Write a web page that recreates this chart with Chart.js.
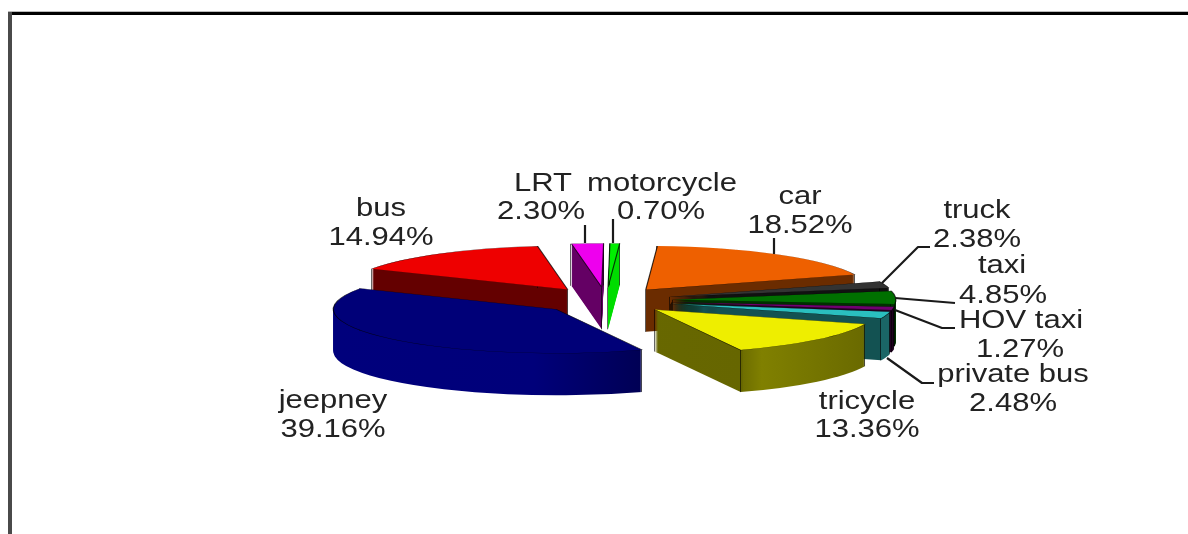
<!DOCTYPE html>
<html>
<head>
<meta charset="utf-8">
<script src="https://cdn.jsdelivr.net/npm/chart.js@4/dist/chart.umd.js"></script>
<style>
html,body{margin:0;padding:0;background:#fff;overflow:hidden;width:1188px;height:534px}
#wrap{position:relative;width:1188px;height:534px}
canvas{position:absolute;left:0;top:0;filter:blur(0.45px)}
#top{position:absolute;left:8px;top:11px;width:1180px;height:3px;background:#000;border-top:1px solid #bbb}
#left{position:absolute;left:8px;top:12px;width:4px;height:522px;background:#4a4a4a}
</style>
</head>
<body>
<div id="wrap">
<div id="top"></div><div id="left"></div>
<canvas id="c" width="1188" height="534"></canvas>
</div>
<script>
const categories = ["car","truck","taxi","HOV taxi","private bus","tricycle","jeepney","bus","LRT","motorcycle"];
const shares = [18.52,2.38,4.85,1.27,2.48,13.36,39.16,14.94,2.30,0.70];
const shareLabels = ["18.52%","2.38%","4.85%","1.27%","2.48%","13.36%","39.16%","14.94%","2.30%","0.70%"];

const topColors = ["#EE6000","#333333","#007000","#700070","#2ABFBF","#EEEE00","#000078","#EE0000","#EE00EE","#00EE00"];
const wallStyles = [
  [[0,"#6B2C00"],[1,"#6B2C00"]],
  [[0,"#111111"],[1,"#111111"]],
  [[0,"#003000"],[1,"#003000"]],
  [[0,"#200020"],[1,"#200020"]],
  [[0,"#135252"],[0.969,"#135252"],[0.971,"#1A6666"],[1,"#1A6666"]],
  [[0,"#6B6B00"],[0.696,"#666600"],[0.698,"#6E6E00"],[0.74,"#808000"],[0.97,"#6A6A00"],[1,"#6A6A00"]],
  [[0,"#00007C"],[0.45,"#00007A"],[0.72,"#000050"],[1,"#000050"]],
  [[0,"#640000"],[1,"#640000"]],
  [[0,"#640064"],[1,"#640064"]],
  [[0,"#00DD00"],[1,"#00DD00"]]
];

const labelSpots = [
  [800,204,800,233],[977,218,977,247],[1002,273,1003,303],[1021,328,1020,357],[1013,382,1013,411],
  [867,409,867,437],[333,408,333,437],[381,216,381,245],[543,191,541,219],[662,191,661,219]
];
const leaders = [
  [[774,238],[774,254]],
  [[882,283],[918,247],[930,247]],
  [[895,298],[955,303]],
  [[895,310],[942,328],[955,328]],
  [[887,358],[922,383],[934,383]],
  [[585,225],[585,243]],
  [[613,219],[613,243]]
];

const squash = 0.197;
const explode = 67;
const depth = 42;
const textStretch = 1.24;

const pie3d = {
  id: "pie3d",
  beforeDatasetDraw(chart, args) {
    const ctx = chart.ctx;
    const items = args.meta.data.map((el, i) => {
      const mid = (el.startAngle + el.endAngle) / 2;
      return {el, i, mid, tx: Math.cos(mid) * explode, ty: Math.sin(mid) * explode};
    }).sort((a, b) => a.ty - b.ty);

    for (const it of items) {
      const el = it.el, base = el.options;
      const grad = ctx.createLinearGradient(el.x - el.outerRadius, 0, el.x + el.outerRadius, 0);
      wallStyles[it.i].forEach(s => grad.addColorStop(s[0], s[1]));
      const put = dy => {
        ctx.save();
        ctx.translate(0, el.y + dy);
        ctx.scale(1, squash);
        ctx.translate(0, -el.y);
        ctx.translate(it.tx, it.ty);
      };
      el.options = Object.assign({}, base, {backgroundColor: grad, borderWidth: 0});
      for (let dy = depth; dy > 0; dy--) { put(dy); el.draw(ctx); ctx.restore(); }

      const ax = el.x + it.tx, ay = el.y + it.ty * squash, r = el.outerRadius;
      const corners = [[ax, ay],
        [ax + r * Math.cos(el.startAngle), ay + squash * r * Math.sin(el.startAngle)],
        [ax + r * Math.cos(el.endAngle), ay + squash * r * Math.sin(el.endAngle)]];
      ctx.save();
      ctx.strokeStyle = "rgba(0,0,0,0.6)";
      ctx.lineWidth = 1;
      for (const p of corners) {
        const x = Math.round(p[0]) - 0.5;
        ctx.beginPath(); ctx.moveTo(x, p[1]); ctx.lineTo(x, p[1] + depth); ctx.stroke();
      }
      ctx.restore();

      el.options = Object.assign({}, base, {backgroundColor: topColors[it.i], borderColor: "rgba(0,0,0,0.75)", borderWidth: 1.2});
      put(0); el.draw(ctx); ctx.restore();
      el.options = base;
    }
    return false;
  },
  afterDatasetsDraw(chart) {
    const ctx = chart.ctx;
    ctx.save();
    ctx.strokeStyle = "#1a1a1a";
    ctx.lineWidth = 2.2;
    ctx.lineJoin = "round";
    for (const line of leaders) {
      ctx.beginPath();
      line.forEach((p, i) => i ? ctx.lineTo(p[0], p[1]) : ctx.moveTo(p[0], p[1]));
      ctx.stroke();
    }
    ctx.fillStyle = "#222";
    ctx.font = '25px "Liberation Sans", Arial, sans-serif';
    ctx.textAlign = "center";
    ctx.textBaseline = "alphabetic";
    const put = (s, x, y) => {
      ctx.save(); ctx.translate(x, y); ctx.scale(textStretch, 1); ctx.fillText(s, 0, 0); ctx.restore();
    };
    categories.forEach((name, i) => {
      const s = labelSpots[i];
      put(name, s[0], s[1]);
      put(shareLabels[i], s[2], s[3]);
    });
    ctx.restore();
  }
};

new Chart(document.getElementById("c"), {
  type: "pie",
  data: {
    labels: categories,
    datasets: [{ data: shares, backgroundColor: topColors, borderWidth: 0 }]
  },
  options: {
    responsive: false,
    animation: false,
    devicePixelRatio: 1,
    rotation: 3,
    radius: 223,
    layout: { padding: { left: 24, top: 67, right: 0, bottom: 0 } },
    plugins: { legend: { display: false }, tooltip: { enabled: false }, title: { display: false } }
  },
  plugins: [pie3d]
});
</script>
</body>
</html>
